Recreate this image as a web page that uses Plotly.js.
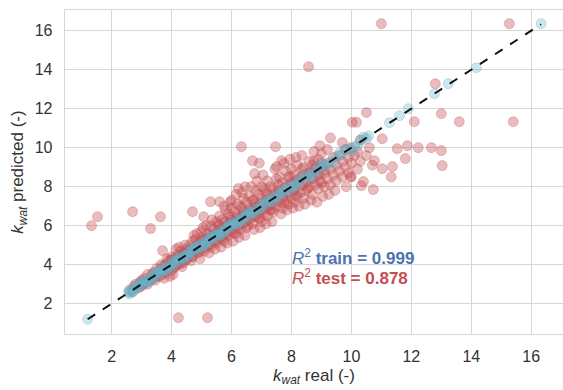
<!DOCTYPE html>
<html><head><meta charset="utf-8">
<script src="https://cdn.plot.ly/plotly-3.0.1.min.js"></script>
<style>body{margin:0;background:#fff}#chart{width:563px;height:390px}</style>
</head><body><div id="chart"></div>
<script>
// Training set: real vs predicted
const trainReal = [1.2,2.55,2.62,2.7,2.78,2.85,2.9,2.98,3.05,3.1,3.18,3.25,3.3,3.38,3.45,3.5,3.58,3.65,3.7,3.78,3.85,3.9,3.98,4.05,4.1,4.18,4.25,4.3,4.38,4.45,4.5,4.58,4.65,4.7,4.78,4.85,4.9,4.98,5.05,5.1,5.18,5.25,5.3,5.38,5.45,5.5,5.58,5.65,5.7,5.78,5.85,5.9,5.98,6.05,6.1,6.18,6.25,6.3,6.38,6.45,6.5,6.6,6.7,6.8,6.9,7.0,7.1,7.2,7.3,7.4,7.5,7.6,7.7,7.8,7.9,8.0,8.1,8.2,8.35,8.5,8.65,8.8,8.95,9.1,9.3,9.5,9.7,9.9,10.1,10.3,10.5,10.57,11.27,11.6,11.9,12.77,13.23,14.17,16.33,
2.6,2.88,3.2,3.48,3.8,4.08,4.4,4.68,5.0,5.28,5.6,5.88,6.2,6.48,6.75,7.05,7.35,7.65,7.95,8.25,8.6,8.9,9.2,9.6,10.0,10.4,
2.72,3.0,3.35,3.62,3.95,4.22,4.55,4.82,5.15,5.42,5.75,6.02,6.35,6.62,6.95,7.25,7.55,7.85,8.15,8.45,8.75,9.05,9.4,9.8,10.2];
const trainPred = [1.2,2.58,2.6,2.74,2.75,2.9,2.86,3.02,3.01,3.15,3.14,3.3,3.26,3.42,3.41,3.55,3.54,3.7,3.66,3.83,3.81,3.95,3.94,4.1,4.06,4.23,4.2,4.36,4.33,4.5,4.46,4.63,4.6,4.76,4.73,4.9,4.86,5.03,5.0,5.16,5.13,5.3,5.26,5.43,5.4,5.56,5.53,5.7,5.66,5.83,5.8,5.96,5.93,6.1,6.06,6.23,6.2,6.36,6.33,6.5,6.46,6.64,6.66,6.84,6.86,7.04,7.06,7.24,7.26,7.44,7.46,7.64,7.66,7.84,7.86,8.04,8.06,8.24,8.31,8.54,8.61,8.84,8.91,9.14,9.26,9.54,9.66,9.94,10.06,10.34,10.47,10.6,11.28,11.64,12.0,12.77,13.28,14.1,16.36,
2.5,2.98,3.08,3.6,3.68,4.2,4.28,4.8,4.88,5.4,5.48,6.0,6.08,6.6,6.63,7.18,7.22,7.78,7.82,8.38,8.47,9.03,9.07,9.73,9.86,10.53,
2.66,3.08,3.25,3.72,3.85,4.33,4.45,4.93,5.05,5.53,5.65,6.13,6.25,6.73,6.85,7.36,7.45,7.96,8.05,8.57,8.63,9.17,9.28,9.92,10.08];

// Test set: real vs predicted
const testReal = [2.6,2.7,2.8,2.9,3.0,3.0,3.1,3.2,3.2,3.3,3.4,3.4,3.5,3.5,2.75,2.95,3.15,3.35,3.45,3.05,
3.6,3.6,3.7,3.7,3.8,3.8,3.9,3.9,4.0,4.0,4.0,4.1,4.1,4.2,4.2,4.3,4.3,4.4,4.4,4.5,4.5,3.65,3.85,4.05,4.25,4.35,4.45,3.75,3.95,4.15,
4.6,4.6,4.7,4.7,4.8,4.8,4.9,4.9,5.0,5.0,5.0,5.1,5.1,5.2,5.2,5.3,5.3,5.3,5.4,5.4,5.5,5.5,5.5,4.65,4.85,4.95,5.15,5.25,5.45,5.05,4.75,5.35,
5.6,5.6,5.6,5.7,5.7,5.7,5.8,5.8,5.8,5.9,5.9,5.9,6.0,6.0,6.0,6.0,6.1,6.1,6.1,6.2,6.2,6.2,6.3,6.3,6.3,6.4,6.4,6.4,6.5,6.5,6.5,5.65,5.85,6.05,6.25,6.45,5.75,6.15,6.35,5.95,6.45,
6.6,6.6,6.6,6.7,6.7,6.7,6.8,6.8,6.8,6.9,6.9,6.9,7.0,7.0,7.0,7.0,7.1,7.1,7.1,7.2,7.2,7.2,7.2,7.3,7.3,7.3,7.4,7.4,7.4,7.5,7.5,7.5,6.75,6.95,7.15,7.35,6.85,7.05,7.45,6.65,
7.6,7.6,7.6,7.7,7.7,7.7,7.8,7.8,7.8,7.9,7.9,7.9,8.0,8.0,8.0,8.1,8.1,8.1,8.2,8.2,8.2,8.3,8.3,8.4,8.4,8.4,8.5,8.5,7.65,7.85,8.05,8.25,8.45,7.75,8.15,8.35,7.95,
8.6,8.6,8.6,8.7,8.7,8.7,8.8,8.8,8.9,8.9,8.9,9.0,9.0,9.0,9.1,9.1,9.2,9.2,9.2,9.3,9.3,9.4,9.4,9.5,9.5,8.65,8.85,9.05,9.25,9.45,8.95,9.3,9.7,8.75,
9.6,9.6,9.7,9.7,9.8,9.8,9.9,9.9,10.0,10.0,10.0,10.1,10.2,10.2,10.3,10.3,10.4,10.5,10.5,10.6,10.7,10.77,10.73,10.03,10.17,9.83,9.97,10.33,
11.0,15.27,8.57,12.8,13.0,13.6,15.4,12.1,11.03,11.87,11.53,12.23,12.67,13.0,11.8,13.03,11.37,11.03,11.33,
1.33,1.53,2.7,3.63,3.3,4.7,5.07,3.7,4.23,5.2,5.3,5.6,6.33,7.47,6.7,6.93,6.23,6.77,7.5,7.67,
4.0,4.2,4.4,4.6,4.8,5.0,5.2,5.4,5.6,5.8,6.0,6.2,6.4,6.6,6.8,7.0,7.2,7.4,7.6,7.8,8.0,8.2,8.4,8.6,8.8,9.0,
4.1,4.3,4.5,4.7,4.9,5.1,5.3,5.5,5.7,5.9,6.1,6.3,6.5,6.7,6.9,7.1,7.3,7.5,7.7,7.9,8.1,8.3,8.5,8.7,8.9,9.1,
5.55,5.95,6.35,6.75,7.15,7.55,7.95,8.35,8.75,5.75,6.15,6.55,6.95,7.35,7.75,8.15,8.55,8.95];
const testPred = [2.7,2.6,3.0,2.8,3.2,2.9,3.3,3.0,3.5,3.2,3.6,3.3,3.4,3.8,2.9,3.1,3.1,3.5,3.2,3.0,
3.7,3.4,3.9,3.5,4.0,3.6,3.8,4.2,4.1,3.7,4.4,3.9,4.3,4.0,4.5,4.2,4.7,4.1,4.6,4.3,4.8,4.0,4.3,3.5,4.9,3.9,5.0,3.3,3.4,4.8,
4.5,5.0,4.4,5.2,4.7,5.3,4.6,5.1,4.8,5.4,5.7,4.7,5.3,5.0,5.6,4.9,5.5,6.0,5.2,5.8,5.1,5.6,6.2,4.2,5.6,4.3,6.0,4.6,4.8,5.9,5.5,6.3,
5.4,6.0,6.5,5.3,5.9,6.3,5.6,6.2,6.8,5.5,6.1,6.6,5.7,6.3,6.9,7.3,5.6,6.2,6.7,5.9,6.5,7.1,5.8,6.4,7.0,6.1,6.7,7.4,5.9,6.6,7.2,4.9,5.1,5.2,5.4,5.5,7.0,7.6,7.7,7.2,8.0,
6.3,6.9,7.5,6.1,6.8,7.3,6.5,7.1,7.8,6.4,7.0,7.6,6.2,6.8,7.4,8.0,6.6,7.2,7.9,6.5,7.0,7.6,8.3,6.8,7.4,8.0,6.7,7.3,7.9,7.0,7.6,8.4,5.8,5.9,6.1,6.2,8.3,8.6,8.9,8.0,
7.2,7.8,8.5,6.9,7.5,8.2,7.3,8.0,8.8,7.1,7.7,8.5,7.4,8.1,8.9,7.2,7.8,8.6,7.5,8.3,9.1,7.7,8.5,7.4,8.1,9.0,7.8,8.6,6.6,6.8,6.9,7.0,7.1,9.2,9.5,9.6,9.4,
8.0,8.7,9.3,7.6,8.4,9.1,8.1,8.9,7.9,8.6,9.4,8.2,9.0,9.7,8.0,8.7,8.4,9.2,9.9,8.1,8.9,8.6,9.5,8.3,9.1,7.3,7.2,7.5,7.6,7.8,10.1,10.5,10.26,9.8,
8.8,9.6,8.5,9.3,9.0,9.9,8.7,9.5,9.2,10.0,8.5,9.6,8.9,9.8,9.3,10.4,8.26,9.6,11.8,10.0,9.1,9.33,7.85,11.3,11.3,8.0,8.5,8.05,
16.36,16.36,14.15,13.28,11.74,11.33,11.33,11.33,10.46,10.1,9.95,10.0,10.0,9.85,9.44,9.08,9.03,8.92,8.5,
6.0,6.46,6.72,6.46,5.85,6.72,6.46,4.72,1.28,1.28,7.23,7.23,10.05,10.05,9.33,9.2,7.9,8.67,9.03,9.33,
4.25,4.3,4.55,4.75,4.95,5.2,5.35,5.55,5.75,5.95,6.15,6.4,6.55,6.75,6.95,7.15,7.35,7.6,7.75,7.95,8.2,8.35,8.6,8.75,8.95,9.2,
3.85,4.05,4.25,4.45,4.65,4.85,5.05,5.25,5.45,5.65,5.85,6.05,6.25,6.45,6.65,6.85,7.05,7.25,7.45,7.65,7.85,8.05,8.25,8.45,8.65,8.85,
6.05,6.45,6.9,7.3,7.7,8.1,8.5,8.9,9.3,5.2,5.6,6.0,6.4,6.8,7.15,7.55,7.9,8.3];

const tickVals = [2,4,6,8,10,12,14,16];
const r2Train = "0.999";
const r2Test = "0.878";

const lo = Math.min(...trainReal), hi = Math.max(...trainReal);

const traces = [
  {type:'scatter', mode:'markers', x:testReal, y:testPred, name:'test',
   marker:{size:10, color:'rgba(196,78,82,0.38)', line:{color:'rgba(185,75,80,0.3)', width:1}}},
  {type:'scatter', mode:'markers', x:trainReal, y:trainPred, name:'train',
   marker:{size:10, color:'rgba(100,181,205,0.33)', line:{color:'rgba(100,165,190,0.3)', width:1}}},
  {type:'scatter', mode:'lines', x:[lo,hi], y:[lo,hi], name:'y=x',
   line:{color:'#111', width:2, dash:'dash'}}
];

const FONT = 'Liberation Sans, Arial, sans-serif';
const axisCommon = {
  tickvals: tickVals, showgrid:true, gridcolor:'#d6d6d6', gridwidth:1.3,
  zeroline:false, showline:true, linecolor:'#d6d6d6', linewidth:1.3, mirror:true,
  ticks:'', tickfont:{family:FONT, size:16, color:'#333'}
};

const layout = {
  width:563, height:390, paper_bgcolor:'#fff', plot_bgcolor:'#fff',
  margin:{l:65, r:0, t:10, b:56},
  showlegend:false,
  font:{family:FONT, color:'#333'},
  xaxis: Object.assign({}, axisCommon, {range:[0.445,17.06], ticklabelstandoff:7,
    title:{text:'<i>k</i><sub><i>wat</i></sub> real (-)', font:{size:17, color:'#333'}, standoff:5}}),
  yaxis: Object.assign({}, axisCommon, {range:[0.445,17.06], ticklabelstandoff:8,
    title:{text:'<i>k</i><sub><i>wat</i></sub> predicted (-)', font:{size:17, color:'#333'}, standoff:6}}),
  annotations:[
    {x:7.95, y:4.4, xref:'x', yref:'y', xanchor:'left', yanchor:'middle', showarrow:false,
     text:'<i>R</i><sup>2</sup> <b>train = '+r2Train+'</b>', font:{family:FONT, size:17, color:'#4C72B0'}},
    {x:7.95, y:3.35, xref:'x', yref:'y', xanchor:'left', yanchor:'middle', showarrow:false,
     text:'<i>R</i><sup>2</sup> <b>test = '+r2Test+'</b>', font:{family:FONT, size:17, color:'#C44E52'}}
  ]
};

Plotly.newPlot('chart', traces, layout, {displayModeBar:false, staticPlot:true});
</script></body></html>
